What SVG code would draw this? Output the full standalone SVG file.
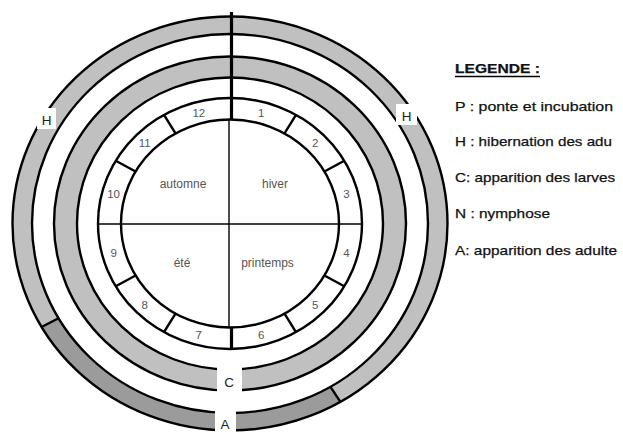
<svg xmlns="http://www.w3.org/2000/svg" width="623" height="432" viewBox="0 0 623 432">
<style>
.ln{stroke:#000;stroke-width:2.4;fill:none}
.thin{stroke:#000;stroke-width:1.4;fill:none}
.thick{stroke:#000;stroke-width:3.2;fill:none}
.light{fill:#c0c0c0}
.dark{fill:#9b9b9b}
.mon{font-family:"Liberation Sans",Arial,sans-serif;font-size:11.5px;fill:#555;text-anchor:middle}
.sea{font-family:"Liberation Sans",Arial,sans-serif;font-size:12px;fill:#555;text-anchor:middle}
.lab{font-family:"Liberation Sans",Arial,sans-serif;font-size:13.5px;fill:#222;text-anchor:middle}
.leg{font-family:"Liberation Sans",Arial,sans-serif;font-size:13px;fill:#111;stroke:#111;stroke-width:0.25}
</style>
<rect width="623" height="432" fill="#fff"/>
<g id="ring-outer">
<path class="light" fill-rule="evenodd" d="M447.5,223.5 A217.5,207 0 1 1 12.5,223.5 A217.5,207 0 1 1 447.5,223.5 Z M428,223.5 A198,189.5 0 1 1 32,223.5 A198,189.5 0 1 1 428,223.5 Z"/>
<path class="dark" d="M340.4,401.9 A217.5,207 0 0 1 41.6,327 L58.5,318.25 A198,189.5 0 0 0 330.5,386.8 Z"/>
<ellipse class="ln" cx="230" cy="223.5" rx="217.5" ry="207"/>
<ellipse class="ln" cx="230" cy="223.5" rx="198" ry="189.5"/>
<line class="ln" x1="340.4" y1="401.9" x2="330.5" y2="386.8"/>
<line class="ln" x1="41.6" y1="327" x2="58.5" y2="318.25"/>
</g>
<g id="ring-middle">
<path class="light" fill-rule="evenodd" d="M406,223.5 A176,167 0 1 1 54,223.5 A176,167 0 1 1 406,223.5 Z M383,223.5 A153,146 0 1 1 77,223.5 A153,146 0 1 1 383,223.5 Z"/>
<ellipse class="ln" cx="230" cy="223.5" rx="176" ry="167"/>
<ellipse class="ln" cx="230" cy="223.5" rx="153" ry="146"/>
</g>
<g id="month-ring">
<ellipse class="ln" cx="230" cy="223.5" rx="132" ry="125.5" fill="#fff"/>
<ellipse class="ln" cx="230" cy="223.5" rx="109" ry="104"/>
<g class="ln">
<line x1="284.5" y1="133.4" x2="296" y2="114.8"/>
<line x1="324.4" y1="171.5" x2="344.3" y2="160.75"/>
<line x1="324.4" y1="275.5" x2="344.3" y2="286.25"/>
<line x1="284.5" y1="313.6" x2="296" y2="332.2"/>
<line x1="175.5" y1="313.6" x2="164" y2="332.2"/>
<line x1="135.6" y1="275.5" x2="115.7" y2="286.25"/>
<line x1="135.6" y1="171.5" x2="115.7" y2="160.75"/>
<line x1="175.5" y1="133.4" x2="164" y2="114.8"/>
</g>
</g>
<g id="axes">
<line class="thin" x1="229" y1="120" x2="229" y2="327.5"/>
<line class="thin" x1="98" y1="224" x2="362" y2="224"/>
<line class="thick" x1="231.5" y1="12" x2="231.5" y2="120"/>
<line class="thick" x1="231.5" y1="327" x2="231.5" y2="349"/>
</g>
<g id="months">
<text class="mon" x="261.2" y="117">1</text>
<text class="mon" x="315.2" y="146.5">2</text>
<text class="mon" x="346.4" y="198">3</text>
<text class="mon" x="346.4" y="257">4</text>
<text class="mon" x="315.2" y="308.5">5</text>
<text class="mon" x="261.2" y="338.5">6</text>
<text class="mon" x="198.8" y="338.5">7</text>
<text class="mon" x="144.8" y="308.5">8</text>
<text class="mon" x="113.6" y="257">9</text>
<text class="mon" x="113.6" y="198">10</text>
<text class="mon" x="144.8" y="146.5">11</text>
<text class="mon" x="198.8" y="117">12</text>
</g>
<g id="seasons">
<text class="sea" x="183" y="188">automne</text>
<text class="sea" x="275" y="188">hiver</text>
<text class="sea" x="182" y="267">été</text>
<text class="sea" x="267.5" y="267">printemps</text>
</g>
<g id="label-H-left">
<rect x="37" y="108" width="19" height="21" fill="#fff"/>
<text class="lab" x="46.5" y="125">H</text>
</g>
<g id="label-H-right">
<rect x="396" y="104" width="21" height="21" fill="#fff"/>
<text class="lab" x="406.5" y="120.5">H</text>
</g>
<g id="label-C">
<rect x="217" y="365" width="25" height="30" fill="#fff"/>
<text class="lab" x="229" y="387">C</text>
</g>
<g id="label-A">
<rect x="215" y="409" width="21" height="23" fill="#fff"/>
<text class="lab" x="225" y="428.5">A</text>
</g>
<g id="legend">
<text class="leg" x="455" y="72.5" font-weight="bold" textLength="85" lengthAdjust="spacingAndGlyphs">LEGENDE :</text>
<line x1="455" y1="76.5" x2="540" y2="76.5" stroke="#000" stroke-width="1.4"/>
<text class="leg" x="455" y="110.5" textLength="158" lengthAdjust="spacingAndGlyphs">P : ponte et  incubation</text>
<text class="leg" x="455" y="146" textLength="157" lengthAdjust="spacingAndGlyphs">H : hibernation des adu</text>
<text class="leg" x="455" y="181.5" textLength="160" lengthAdjust="spacingAndGlyphs">C: apparition des larves</text>
<text class="leg" x="455" y="218" textLength="95" lengthAdjust="spacingAndGlyphs">N : nymphose</text>
<text class="leg" x="455" y="254.5" textLength="162" lengthAdjust="spacingAndGlyphs">A: apparition des adulte</text>
</g>
</svg>
